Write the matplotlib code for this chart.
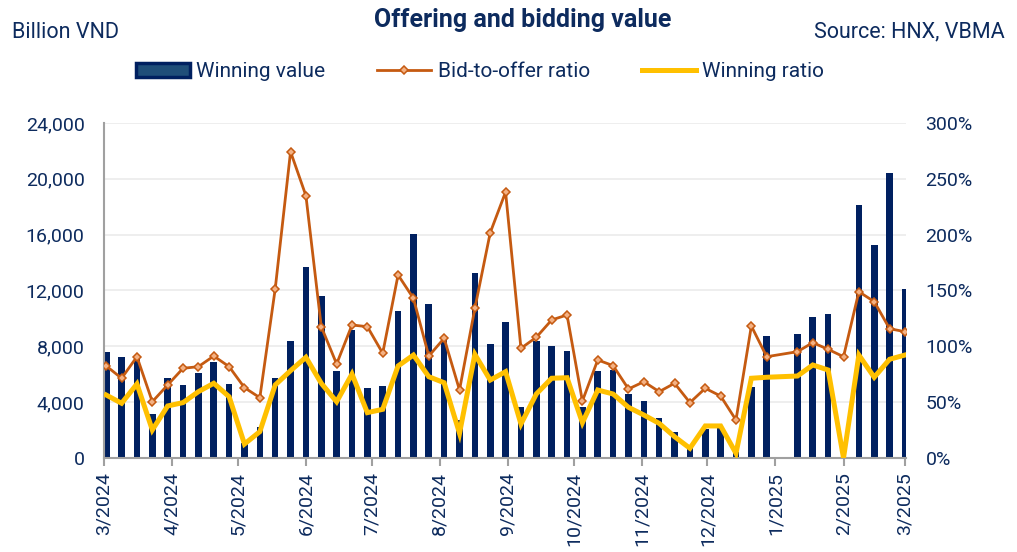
import matplotlib as mpl
mpl.use('Agg')
import matplotlib.pyplot as plt
import matplotlib.dates as mdates
from matplotlib.lines import Line2D
from matplotlib.patches import Patch
from matplotlib.ticker import FuncFormatter, MultipleLocator
import numpy as np
import pandas as pd

plt.rcParams['font.family'] = ['Roboto', 'DejaVu Sans']

# ----------------------------------------------------------------------
# --- data (weekly auctions, week ending Saturday; no auction week of 4/1/2025)

weeks = pd.date_range('2024-03-02', '2025-03-01', freq='7D')
weeks = weeks[weeks != pd.Timestamp('2025-01-04')]

# billion VND
winning_value = [7600, 7200, 7150, 3150, 5700, 5200, 6100, 6850, 5300, 1100,
                 2250, 5700, 8400, 13700, 11600, 6200, 9150, 5000, 5150, 10550,
                 16050, 11000, 8600, 2700, 13250, 8150, 9750, 3650, 8350, 8000,
                 7700, 3650, 6250, 6300, 4600, 4100, 2900, 1850, 800, 2100,
                 2150, 450, 5100, 8750, 8900, 10100, 10350, 0, 18150, 15250,
                 20400, 12100]

# %
bid_to_offer = [82.4, 71.4, 90.7, 50.4, 65.4, 80.3, 81.8, 91.3, 81.8, 63.0,
                54.0, 151.3, 274.3, 234.9, 117.6, 84.2, 119.1, 117.6, 93.8, 163.9,
                143.0, 91.3, 107.2, 60.9, 134.0, 201.8, 238.2, 98.2, 108.1, 123.6,
                128.1, 51.0, 87.8, 82.7, 61.8, 68.3, 59.4, 66.9, 49.6, 62.4,
                55.5, 34.0, 118.2, 90.7, 95.2, 103.3, 97.3, 90.7, 148.9, 140.0,
                115.8, 113.1]

winning_ratio = [56.4, 49.0, 66.3, 25.1, 46.6, 49.6, 59.4, 66.9, 54.9, 12.5,
                 23.6, 65.4, 78.2, 90.2, 66.9, 50.4, 75.2, 40.6, 43.6, 82.4,
                 92.2, 72.8, 67.4, 22.1, 92.8, 69.8, 77.3, 30.4, 57.3, 71.4,
                 71.9, 31.6, 60.9, 57.3, 45.4, 38.5, 31.0, 19.1, 8.7, 28.7,
                 28.7, 4.2, 71.4, 72.3, 73.4, 83.3, 78.8, 0.0, 92.2, 72.3,
                 88.4, 92.2]

# ----------------------------------------------------------------------
# --- styles

navy = '#002060'
txt = '#0D2B5E'
orange = '#C55A11'
orange_light = '#F4B183'
yellow = '#FFC000'
axis_grey = '#A0A0A0'

fig = plt.figure(figsize=(10.17, 5.52), dpi=100)
ax = fig.add_axes([0.1023, 0.1703, 0.7886, 0.6069])
ax2 = ax.twinx()

ax.set_axisbelow(True)
ax.bar(weeks, winning_value, width=3.0, color=navy, zorder=2)

ax2.plot(weeks, bid_to_offer, color=orange, lw=2.0, marker='D', ms=4.5,
         mfc=orange_light, mec=orange, mew=1.1, zorder=3)
ax2.plot(weeks, winning_ratio, color=yellow, lw=3.6, solid_joinstyle='miter', zorder=4)

# --- axes
ax.set_xlim(pd.Timestamp('2024-03-01'), pd.Timestamp('2025-03-01 12:00'))
ax.set_ylim(0, 24000)
ax2.set_ylim(0, 300)

ax.yaxis.set_major_locator(MultipleLocator(4000))
ax.yaxis.set_major_formatter(FuncFormatter(lambda v, p: f'{v:,.0f}'))
ax2.yaxis.set_major_locator(MultipleLocator(50))
ax2.yaxis.set_major_formatter(FuncFormatter(lambda v, p: f'{v:.0f}%'))

ax.xaxis.set_major_locator(mdates.MonthLocator())
ax.xaxis.set_major_formatter(FuncFormatter(
    lambda v, p: f'{mdates.num2date(v).month}/{mdates.num2date(v).year}'))

ax.grid(axis='y', color='#EBEBEB', lw=1.2)

for a in (ax, ax2):
    for s in ['top', 'right']:
        a.spines[s].set_visible(False)
ax2.spines['left'].set_visible(False)
ax2.spines['bottom'].set_visible(False)
ax.spines['left'].set_color(axis_grey)
ax.spines['bottom'].set_color(axis_grey)
ax.spines['left'].set_linewidth(1.5)
ax.spines['bottom'].set_linewidth(1.5)

ax.tick_params(axis='y', length=0, pad=14, labelsize=14, labelcolor=txt)
ax2.tick_params(axis='y', length=0, pad=14, labelsize=14, labelcolor=txt)
ax.tick_params(axis='x', length=6, width=1.5, color=axis_grey, pad=4,
               labelsize=14, labelcolor=txt, labelrotation=90)

# --- texts
fig.text(0.514, 0.964, 'Offering and bidding value', ha='center', va='center',
         fontsize=18, fontweight='bold', color=txt)
fig.text(0.012, 0.942, 'Billion VND', ha='left', va='center', fontsize=15.5, color=txt)
fig.text(0.988, 0.942, 'Source: HNX, VBMA', ha='right', va='center', fontsize=15.5, color=txt)

handles = [
    Patch(facecolor='#1F4E79', edgecolor=navy, linewidth=2.5),
    Line2D([], [], color=orange, lw=2.0, marker='D', ms=4.5, mfc=orange_light, mec=orange, mew=1.1),
    Line2D([], [], color=yellow, lw=3.6),
]
labels = ['Winning value', 'Bid-to-offer ratio', 'Winning ratio']
fig.legend(handles, labels, loc='center', bbox_to_anchor=(0.472, 0.870), ncol=3,
           frameon=False, fontsize=15, labelcolor=txt, handlelength=2.6,
           handleheight=0.6, handletextpad=0.3, columnspacing=2.5, numpoints=1)

fig.savefig('out.png', dpi=100)
